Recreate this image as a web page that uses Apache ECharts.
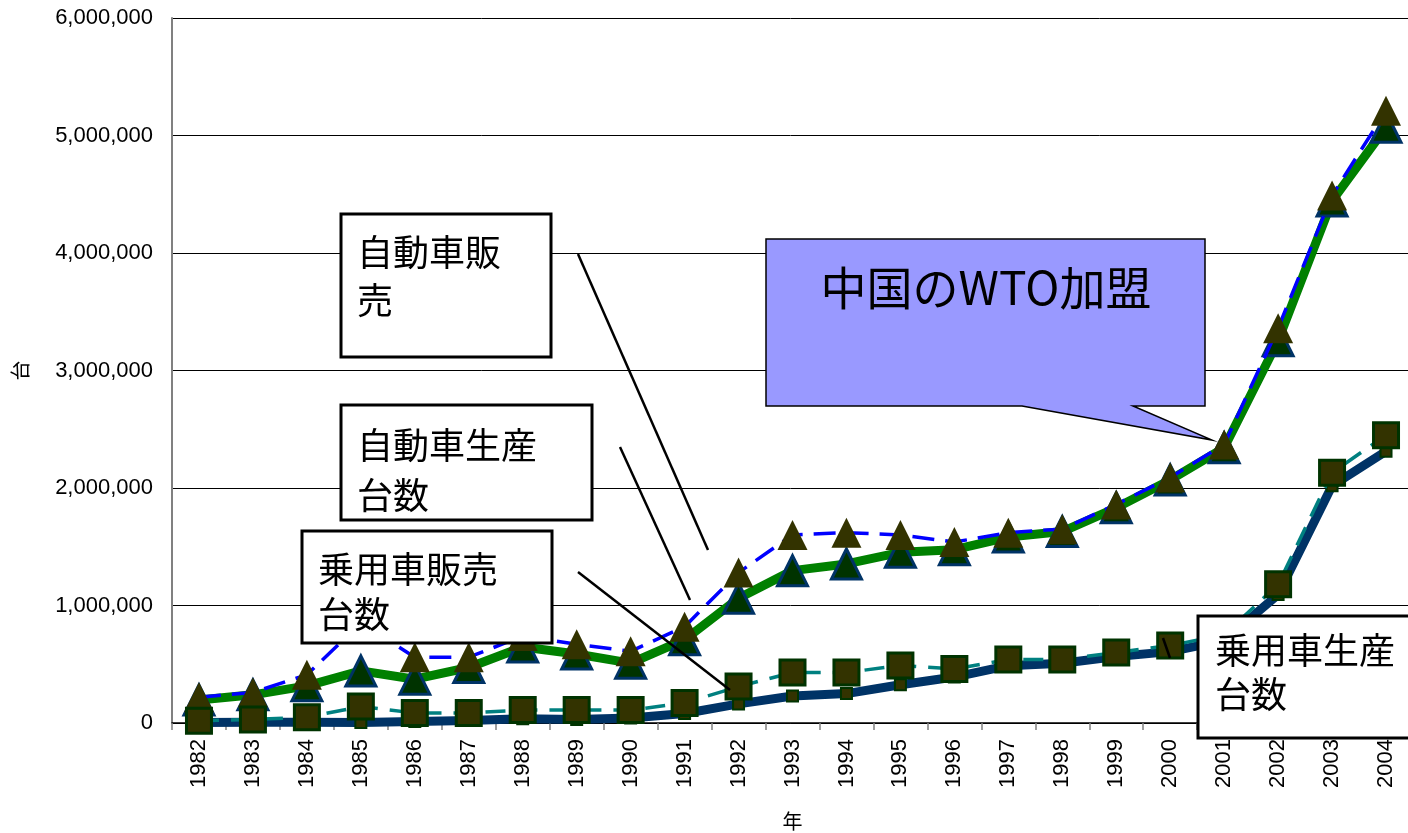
<!DOCTYPE html>
<html>
<head>
<meta charset="utf-8">
<script src="https://cdn.jsdelivr.net/npm/echarts@6/dist/echarts.min.js"></script>
<style>
html,body{margin:0;padding:0;background:#fff;}
#c{width:1408px;height:833px;}
</style>
</head>
<body>
<div id="c"></div>
<script>
const years = ['1982','1983','1984','1985','1986','1987','1988','1989','1990','1991','1992','1993','1994','1995','1996','1997','1998','1999','2000','2001','2002','2003','2004'];
// 自動車販売 (auto sales)
const autoSales = [220000,260000,410000,850000,560000,560000,740000,670000,610000,820000,1280000,1600000,1620000,1600000,1540000,1620000,1650000,1860000,2090000,2370000,3360000,4490000,5210000];
// 自動車生産台数 (auto production)
const autoProd = [196300,239800,316400,443400,372800,472500,646900,586900,509200,708800,1061700,1296800,1353400,1452700,1474900,1582600,1629000,1831800,2069100,2341700,3253600,4443500,5070500];
// 乗用車販売台数 (passenger car sales)
const paxSales = [20000,30000,50000,140000,85000,85000,110000,110000,110000,170000,310000,430000,430000,490000,460000,540000,540000,600000,660000,750000,1180000,2130000,2450000];
// 乗用車生産台数 (passenger car production)
const paxProd = [4030,6046,6010,5200,12297,20865,36798,28820,42409,81055,162725,229697,250333,325461,391099,487695,507861,566105,607455,703525,1092762,2018875,2312561];

const yName = '台';
const xName = '年';
const boxLabels = ['自動車販\n売','自動車生産\n台数','乗用車販売\n台数','乗用車生産\n台数'];
const calloutText = '中国のWTO加盟';

const chart = echarts.init(document.getElementById('c'));
const jp = '"Noto Sans CJK JP", sans-serif';
const num = '"Liberation Sans", Arial, sans-serif';

function box(x,y,w,h,text,tx,ty,lh){
  return [
    {type:'rect', z:100, shape:{x:x,y:y,width:w,height:h}, style:{fill:'#fff',stroke:'#000',lineWidth:3}},
    {type:'text', z:101, x:tx, y:ty, style:{text:text, fontSize:36, fontFamily:jp, fill:'#000', lineHeight:lh, verticalAlign:'top', align:'left'}}
  ];
}
function leader(x1,y1,x2,y2){
  return {type:'line', z:102, shape:{x1:x1,y1:y1,x2:x2,y2:y2}, style:{stroke:'#000',lineWidth:2.5}};
}

const graphics = [].concat(
  box(341,214,210,143,boxLabels[0],357,228,48),
  box(341,405,251,115,boxLabels[1],357,420,50),
  box(302,531,250,112,boxLabels[2],318,547,45),
  box(1198,616,230,122,boxLabels[3],1215,628,44),
  [
    leader(578,254,708,550),
    leader(620,447,690,600),
    leader(578,572,730,690),
    leader(1163,638,1170,658),
    {type:'polygon', z:100, shape:{points:[[766,239],[1205,239],[1205,406],[1133,406],[1212,440],[1022,406],[766,406]]},
      style:{fill:'#9999ff',stroke:'#000',lineWidth:1.5}},
    {type:'text', z:101, x:986, y:288, style:{text:calloutText, fontSize:46, fontFamily:jp, fill:'#000', align:'center', verticalAlign:'middle'}}
  ]
);

chart.setOption({
  animation:false,
  backgroundColor:'#fff',
  grid:{left:172, right:-5, top:18, bottom:110, containLabel:false, outerBoundsMode:'none'},
  xAxis:{
    type:'category', data:years, boundaryGap:true,
    name:xName, nameLocation:'middle', nameGap:88,
    nameTextStyle:{fontSize:20, fontFamily:jp, color:'#000'},
    axisLine:{lineStyle:{color:'#000', width:1.5}},
    axisTick:{show:true, length:7, lineStyle:{color:'#808080', width:1.5}},
    axisLabel:{rotate:90, margin:16, fontSize:22, fontFamily:num, color:'#000', interval:0},
    splitLine:{show:false}
  },
  yAxis:{
    type:'value', min:0, max:6000000, interval:1000000,
    name:yName, nameLocation:'middle', nameGap:142, nameRotate:90,
    nameTextStyle:{fontSize:20, fontFamily:jp, color:'#000'},
    axisLine:{show:true, lineStyle:{color:'#808080', width:2}},
    axisTick:{show:false},
    axisLabel:{margin:19, fontSize:22, fontFamily:num, color:'#000',
      formatter:function(v){return v.toLocaleString('en-US');}},
    splitLine:{show:true, lineStyle:{color:'#000', width:1}}
  },
  series:[
    {name:'自動車生産台数', type:'line', data:autoProd, z:2,
      lineStyle:{color:'#008000', width:9}, symbol:'triangle', symbolSize:[30,30],
      itemStyle:{color:'#003300', borderColor:'#003366', borderWidth:3}},
    {name:'自動車販売', type:'line', data:autoSales, z:3,
      lineStyle:{color:'#0000ff', width:3.5, type:[22,11]}, symbol:'triangle', symbolSize:[30,30],
      itemStyle:{color:'#333300', borderColor:'#333300', borderWidth:0}},
    {name:'乗用車生産台数', type:'line', data:paxProd, z:4,
      lineStyle:{color:'#003366', width:9}, symbol:'rect', symbolSize:[11,11],
      itemStyle:{color:'#333300', borderColor:'#003300', borderWidth:2}},
    {name:'乗用車販売台数', type:'line', data:paxSales, z:5,
      lineStyle:{color:'#008080', width:3.5, type:[20,12]}, symbol:'rect', symbolSize:[25,25],
      itemStyle:{color:'#333300', borderColor:'#003300', borderWidth:3}}
  ],
  graphic:graphics
});
</script>
</body>
</html>
